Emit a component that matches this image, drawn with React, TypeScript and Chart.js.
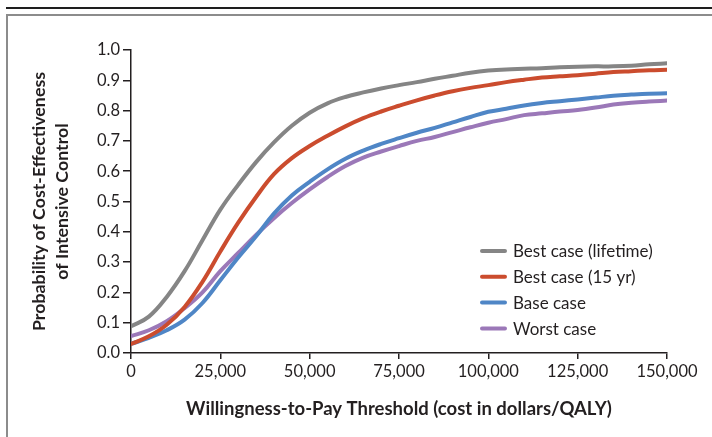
import React, { useEffect, useRef } from "react";
import { Chart, registerables } from "chart.js";

Chart.register(...registerables);

// Willingness-to-pay thresholds (dollars/QALY)
const thresholds = [
  0, 5000, 10000, 15000, 20000, 25000, 30000, 35000, 40000, 45000, 50000,
  55000, 60000, 65000, 70000, 75000, 80000, 85000, 90000, 95000, 100000,
  105000, 110000, 115000, 120000, 125000, 130000, 135000, 140000, 145000, 150000,
];

const bestLifetime = [
  0.088, 0.12, 0.185, 0.27, 0.372, 0.473, 0.555, 0.63, 0.695, 0.75, 0.793,
  0.824, 0.845, 0.86, 0.873, 0.884, 0.894, 0.905, 0.915, 0.925, 0.932,
  0.936, 0.938, 0.94, 0.943, 0.945, 0.946, 0.946, 0.948, 0.953, 0.956,
];

const best15yr = [
  0.03, 0.055, 0.093, 0.152, 0.235, 0.335, 0.43, 0.515, 0.59, 0.643, 0.683,
  0.717, 0.748, 0.775, 0.797, 0.816, 0.834, 0.85, 0.864, 0.875, 0.884,
  0.894, 0.902, 0.909, 0.913, 0.917, 0.922, 0.927, 0.93, 0.933, 0.935,
];

const baseCase = [
  0.03, 0.05, 0.075, 0.11, 0.165, 0.24, 0.315, 0.385, 0.46, 0.52, 0.565,
  0.606, 0.641, 0.668, 0.69, 0.709, 0.727, 0.743, 0.761, 0.779, 0.796,
  0.806, 0.817, 0.825, 0.831, 0.837, 0.843, 0.849, 0.853, 0.856, 0.857,
];

const worstCase = [
  0.056, 0.075, 0.105, 0.148, 0.2, 0.27, 0.33, 0.39, 0.445, 0.495, 0.54,
  0.581, 0.617, 0.645, 0.665, 0.683, 0.70, 0.713, 0.729, 0.745, 0.76,
  0.772, 0.785, 0.791, 0.797, 0.802, 0.81, 0.82, 0.826, 0.83, 0.833,
];

const seriesLabels = [
  "Best case (lifetime)",
  "Best case (15 yr)",
  "Base case",
  "Worst case",
];
const seriesColors = ["#858585", "#cb4c2e", "#4f86c6", "#9b78b8"];

const xAxisTitle = "Willingness-to-Pay Threshold (cost in dollars/QALY)";
const yAxisTitle = ["Probability of Cost-Effectiveness", "of Intensive Control"];

const TEXT = "#231f20";
const FONT = "Lato, 'Open Sans', sans-serif";

const legendPlugin = {
  id: "insideLegend",
  afterDraw(chart: any) {
    const { ctx, chartArea } = chart;
    const rowGap = 25.8;
    const firstY = chartArea.top + 201;
    const lineX0 = chartArea.right - 185;
    const lineX1 = chartArea.right - 162;
    const textX = chartArea.right - 154;
    ctx.save();
    ctx.font = `17px ${FONT}`;
    ctx.textBaseline = "middle";
    ctx.textAlign = "left";
    chart.data.datasets.forEach((ds: any, i: number) => {
      const y = firstY + i * rowGap;
      ctx.strokeStyle = ds.borderColor;
      ctx.lineWidth = 4;
      ctx.lineCap = "round";
      ctx.beginPath();
      ctx.moveTo(lineX0, y);
      ctx.lineTo(lineX1, y);
      ctx.stroke();
      ctx.fillStyle = TEXT;
      ctx.fillText(ds.label, textX, y + 1);
    });
    ctx.restore();
  },
};

export default function App() {
  const canvasRef = useRef<HTMLCanvasElement | null>(null);

  useEffect(() => {
    const canvas = canvasRef.current;
    if (!canvas) return;
    const series = [bestLifetime, best15yr, baseCase, worstCase];
    const chart = new Chart(canvas, {
      type: "line",
      data: {
        datasets: series.map((vals, i) => ({
          label: seriesLabels[i],
          data: thresholds.map((x, j) => ({ x, y: vals[j] })),
          borderColor: seriesColors[i],
          backgroundColor: seriesColors[i],
          borderWidth: 4,
          pointRadius: 0,
          tension: 0.4,
          borderCapStyle: "round" as const,
          borderJoinStyle: "round" as const,
          fill: false,
        })),
      },
      options: {
        responsive: false,
        animation: false,
        devicePixelRatio: 1,
        layout: { padding: { left: 28, right: 45, top: 50, bottom: 14 } },
        plugins: {
          legend: { display: false },
          tooltip: { enabled: false },
        },
        scales: {
          x: {
            type: "linear",
            min: 0,
            max: 150000,
            ticks: {
              stepSize: 25000,
              color: TEXT,
              font: { family: FONT, size: 16.5 },
              padding: 3,
              maxRotation: 0,
              callback: (v: any) => Number(v).toLocaleString("en-US"),
            },
            grid: {
              display: true,
              drawOnChartArea: false,
              drawTicks: true,
              tickLength: 6,
              color: TEXT,
              lineWidth: 1.5,
              tickWidth: 1.5,
              tickColor: TEXT,
            },
            border: { display: true, color: TEXT, width: 1.5 },
            title: {
              display: true,
              text: xAxisTitle,
              color: TEXT,
              font: { family: FONT, size: 18.5, weight: "bold", lineHeight: 1.2 },
              padding: { top: 0, bottom: 3 },
            },
            afterFit: (scale: any) => {
              scale.height = 70;
              scale.paddingLeft = 0;
              scale.paddingRight = 0;
            },
          },
          y: {
            type: "linear",
            min: 0,
            max: 1,
            ticks: {
              stepSize: 0.1,
              color: TEXT,
              font: { family: FONT, size: 16.5 },
              padding: 3,
              callback: (v: any) => Number(v).toFixed(1),
            },
            grid: {
              display: true,
              drawOnChartArea: false,
              drawTicks: true,
              tickLength: 8,
              color: TEXT,
              lineWidth: 1.5,
              tickWidth: 1.5,
              tickColor: TEXT,
            },
            border: { display: true, color: TEXT, width: 1.5 },
            title: {
              display: true,
              text: yAxisTitle,
              color: TEXT,
              font: { family: FONT, size: 17.8, weight: "bold", lineHeight: 1.3 },
              padding: { top: 0, bottom: 0 },
            },
            afterFit: (scale: any) => {
              scale.width = 103;
              scale.paddingTop = 0;
              scale.paddingBottom = 0;
            },
          },
        },
      },
      plugins: [legendPlugin],
    });
    return () => chart.destroy();
  }, []);

  return (
    <div
      style={{
        position: "fixed",
        left: 0,
        top: 0,
        width: 712,
        height: 437,
        overflow: "hidden",
        background: "#ffffff",
      }}
    >
      <div
        style={{
          position: "absolute",
          left: 6,
          top: 7,
          width: 720,
          height: 1.5,
          background: "#1e1e1e",
        }}
      />
      <div
        style={{
          position: "absolute",
          left: 6,
          top: 14,
          width: 720,
          height: 440,
          borderTop: "2px solid #8c8c8c",
          borderLeft: "2px solid #8c8c8c",
          boxSizing: "border-box",
        }}
      />
      <canvas
        ref={canvasRef}
        width={712}
        height={437}
        style={{ position: "absolute", left: 0, top: 0, width: 712, height: 437 }}
      />
    </div>
  );
}
